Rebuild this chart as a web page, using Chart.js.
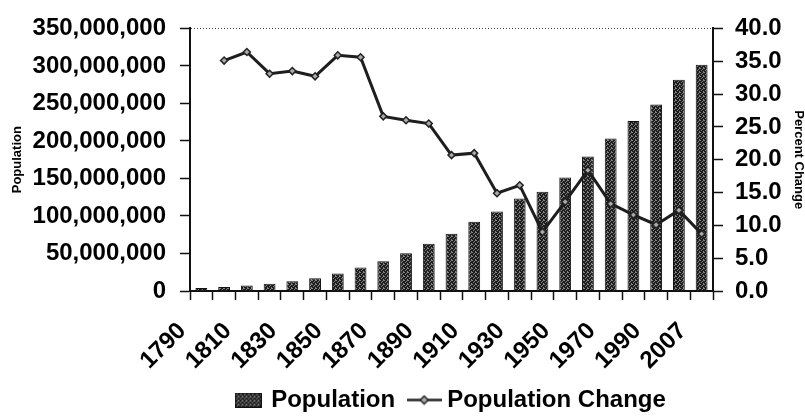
<!DOCTYPE html>
<html>
<head>
<meta charset="utf-8">
<script src="https://cdn.jsdelivr.net/npm/chart.js@4.4.1/dist/chart.umd.min.js"></script>
<style>
    html, body { margin: 0; padding: 0; background: #fff; }
</style>
</head>
<body>
<canvas id="populationChart" width="805" height="418"></canvas>
<script>
var years = ['1790', '1800', '1810', '1820', '1830', '1840', '1850', '1860', '1870', '1880', '1890', '1900',
    '1910', '1920', '1930', '1940', '1950', '1960', '1970', '1980', '1990', '2000', '2007'];

var population = [3929000, 5308000, 7240000, 9638000, 12866000, 17069000, 23192000, 31443000, 39818000,
    50189000, 62980000, 76212000, 92228000, 106022000, 123203000, 132165000, 151326000, 179323000,
    203302000, 226542000, 248710000, 281422000, 301621000];

var percentChange = [null, 35.1, 36.4, 33.1, 33.5, 32.7, 35.9, 35.6, 26.6, 26.0, 25.5, 20.7,
    21.0, 14.9, 16.1, 9.0, 13.6, 18.4, 13.3, 11.6, 10.1, 12.3, 8.7];

var shownYears = ['1790', '1810', '1830', '1850', '1870', '1890', '1910', '1930', '1950', '1970', '1990', '2007'];

Chart.defaults.font.family = '"Liberation Sans", Arial, sans-serif';
Chart.defaults.color = '#000';

// small tile for the stippled look of the scanned bars
function stippleTile() {
    var c = document.createElement('canvas');
    c.width = 4;
    c.height = 4;
    var p = c.getContext('2d');
    p.fillStyle = '#1c1c1c';
    p.fillRect(0, 0, 4, 4);
    p.fillStyle = '#858585';
    [[0, 0], [2, 1], [1, 2], [3, 3], [3, 0]].forEach(function (d) {
        p.fillRect(d[0], d[1], 1, 1);
    });
    return c;
}

var ctx = document.getElementById('populationChart').getContext('2d');
var stipple = ctx.createPattern(stippleTile(), 'repeat');

// legend swatches
var boxImg = document.createElement('canvas');
boxImg.width = 27;
boxImg.height = 15;
var bctx = boxImg.getContext('2d');
bctx.fillStyle = bctx.createPattern(stippleTile(), 'repeat');
bctx.fillRect(0, 0, 27, 15);
bctx.strokeStyle = '#111';
bctx.lineWidth = 1;
bctx.strokeRect(0.5, 0.5, 26, 14);

var lineImg = document.createElement('canvas');
lineImg.width = 35;
lineImg.height = 11;
var lctx = lineImg.getContext('2d');
lctx.strokeStyle = '#222';
lctx.lineWidth = 2.5;
lctx.beginPath();
lctx.moveTo(0, 5.5);
lctx.lineTo(35, 5.5);
lctx.stroke();
lctx.fillStyle = '#aaa';
lctx.lineWidth = 1.5;
lctx.beginPath();
lctx.moveTo(17.5, 1.5);
lctx.lineTo(21.5, 5.5);
lctx.lineTo(17.5, 9.5);
lctx.lineTo(13.5, 5.5);
lctx.closePath();
lctx.fill();
lctx.stroke();

var populationChart = new Chart(ctx, {
    type: 'bar',
    data: {
        labels: years,
        datasets: [
            {
                label: 'Population',
                data: population,
                yAxisID: 'y',
                backgroundColor: stipple,
                borderColor: '#111',
                borderWidth: 1,
                barPercentage: 0.52,
                categoryPercentage: 1,
                order: 1
            },
            {
                type: 'line',
                label: 'Population Change',
                data: percentChange,
                yAxisID: 'y1',
                borderColor: '#1e1e1e',
                borderWidth: 3,
                pointStyle: 'rectRot',
                pointRadius: 3.5,
                pointBackgroundColor: '#aaa',
                pointBorderColor: '#222',
                pointBorderWidth: 1.5,
                tension: 0,
                order: 0
            }
        ]
    },
    options: {
        responsive: false,
        animation: false,
        layout: {
            padding: { top: 25, bottom: -4, left: 0, right: 0 }
        },
        plugins: {
            tooltip: { enabled: false },
            legend: {
                position: 'bottom',
                fullSize: false,
                labels: {
                    font: { size: 24, weight: 'bold' },
                    padding: 18,
                    usePointStyle: true,
                    pointStyleWidth: 22,
                    generateLabels: function (chart) {
                        return chart.data.datasets.map(function (ds, i) {
                            return {
                                text: ds.label,
                                pointStyle: i === 0 ? boxImg : lineImg,
                                datasetIndex: i,
                                fontColor: '#000',
                                lineWidth: 0,
                                hidden: false
                            };
                        });
                    }
                }
            }
        },
        scales: {
            x: {
                grid: {
                    offset: true,
                    drawOnChartArea: false,
                    tickLength: 9,
                    tickColor: '#111',
                    tickWidth: 1.5
                },
                border: { color: '#111', width: 2 },
                ticks: {
                    autoSkip: false,
                    maxRotation: 45,
                    minRotation: 45,
                    padding: 17,
                    labelOffset: -19,
                    font: { size: 24, weight: 'bold' },
                    callback: function (value, index) {
                        var yr = years[index];
                        return shownYears.indexOf(yr) >= 0 ? yr : '';
                    }
                },
                afterFit: function (scale) {
                    scale.height = 79;
                }
            },
            y: {
                position: 'left',
                min: 0,
                max: 350000000,
                ticks: {
                    stepSize: 50000000,
                    padding: 14,
                    font: { size: 24, weight: 'bold' },
                    callback: function (value) {
                        return value.toLocaleString('en-US');
                    }
                },
                grid: {
                    drawOnChartArea: true,
                    color: function (c) {
                        return c.tick && c.tick.value === 350000000 ? '#444' : 'rgba(0,0,0,0)';
                    },
                    lineWidth: 1,
                    tickLength: 10,
                    tickColor: '#111',
                    tickWidth: 1.5
                },
                border: { color: '#111', width: 2, dash: [1, 2] },
                title: {
                    display: true,
                    text: 'Population',
                    font: { size: 13, weight: 'bold' },
                    padding: { top: 10, bottom: 0 }
                },
                afterFit: function (scale) {
                    scale.width = 190;
                }
            },
            y1: {
                position: 'right',
                min: 0,
                max: 40,
                ticks: {
                    stepSize: 5,
                    padding: 12,
                    font: { size: 24, weight: 'bold' },
                    callback: function (value) {
                        return value.toFixed(1);
                    }
                },
                grid: {
                    drawOnChartArea: false,
                    tickLength: 10,
                    tickColor: '#111',
                    tickWidth: 1.5
                },
                border: { color: '#111', width: 2 },
                title: {
                    display: true,
                    text: 'Percent Change',
                    font: { size: 13, weight: 'bold', lineHeight: 1 },
                    padding: { top: 0, bottom: 0 }
                },
                afterFit: function (scale) {
                    scale.width = 92;
                }
            }
        }
    }
});
</script>
</body>
</html>
